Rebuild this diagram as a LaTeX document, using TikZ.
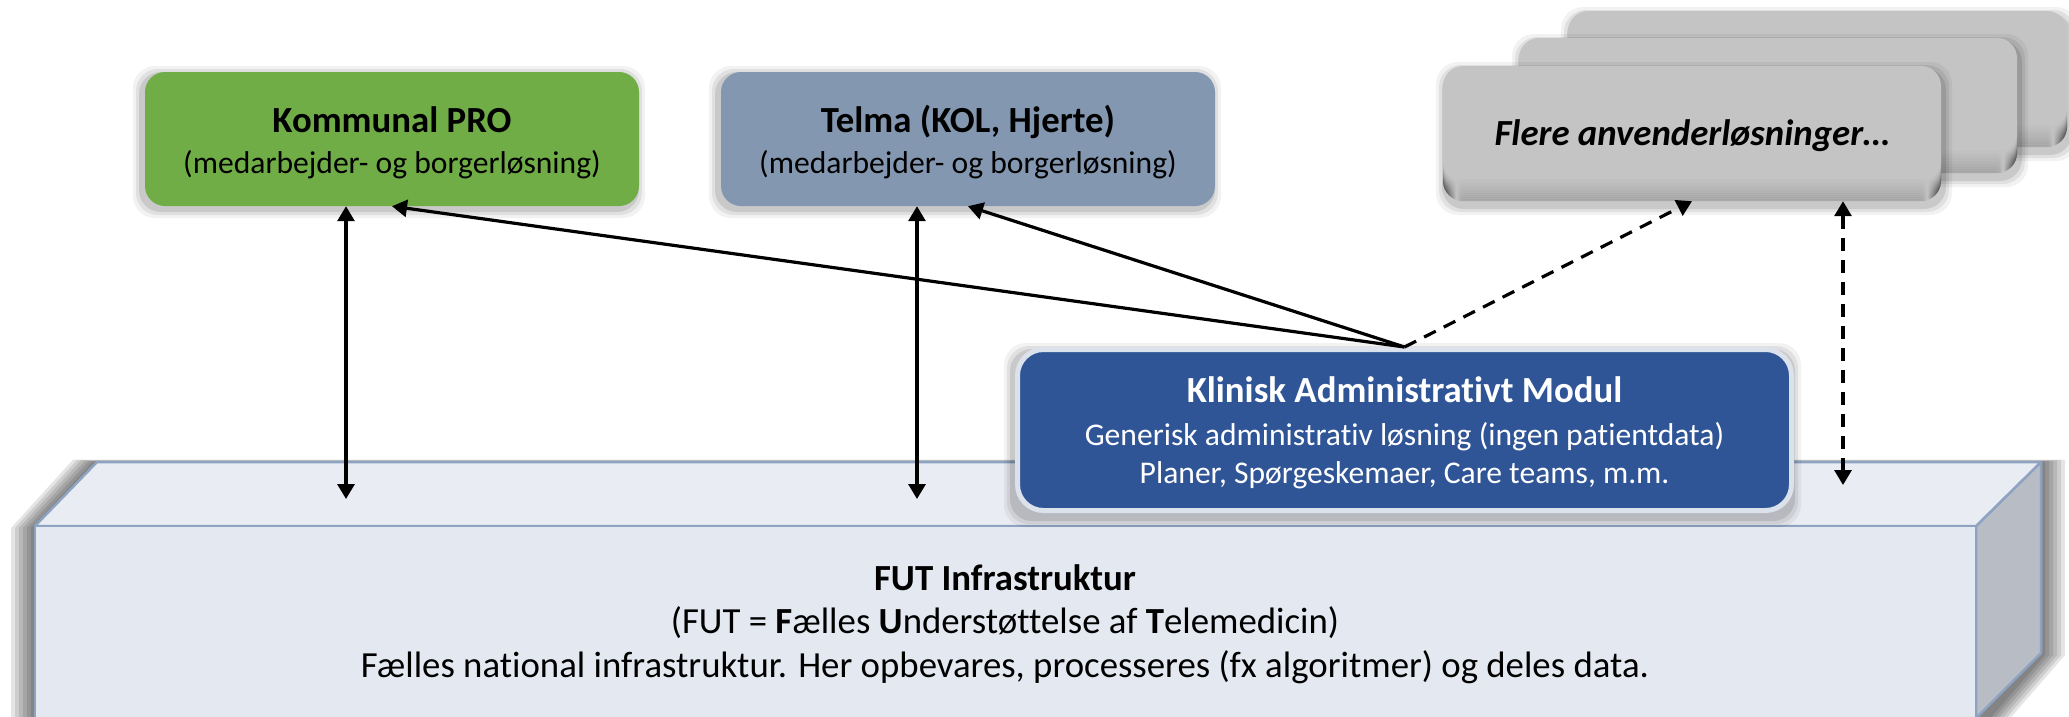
\documentclass[tikz,border=0pt]{standalone}
\usepackage{fontspec}
\setmainfont{Carlito}[Ligatures=NoCommon]
\usetikzlibrary{arrows.meta,calc}
\definecolor{cgreen}{HTML}{70AD47}
\definecolor{ctelma}{HTML}{8497B0}
\definecolor{ckam}{HTML}{2F5597}
\definecolor{ckamb}{HTML}{DCE2EC}
\definecolor{cgray}{HTML}{C4C4C4}
\definecolor{cgrayd}{HTML}{A6A6A6}
\definecolor{futtop}{HTML}{E9ECF2}
\definecolor{futfront}{HTML}{E4E8F0}
\definecolor{futside}{HTML}{B8BCC4}
\definecolor{futedge}{HTML}{8EA3C2}
\tikzset{
  appbox/.style={rectangle, rounded corners=20pt, minimum width=494pt, minimum height=134pt, inner sep=0pt},
  grbox/.style={rectangle, rounded corners=20pt, minimum width=498pt, minimum height=135pt, inner sep=0pt, fill=cgray,
    path picture={\foreach \k in {0,...,11}{\fill[black, opacity=0.012*\k] ([yshift=24pt-2*\k pt]path picture bounding box.south west) rectangle ([yshift=22pt-2*\k pt]path picture bounding box.south east);}}},
  ttl/.style={anchor=base, font=\fontsize{36.8}{44}\selectfont\bfseries, inner sep=0pt},
  txt/.style={anchor=base, font=\fontsize{36.8}{44}\selectfont, inner sep=0pt},
  sub/.style={anchor=base, font=\fontsize{31.6}{38}\selectfont, inner sep=0pt},
  arr/.style={line width=3.2pt, -{Triangle[length=15pt,width=17pt]}},
  dbl/.style={line width=3.2pt, {Triangle[length=15pt,width=17pt]}-{Triangle[length=15pt,width=17pt]}},
  dsh/.style={dash pattern=on 13pt off 9pt},
}
\newcommand{\mysoftshadow}[6]{%
  \foreach \e/\o in {9/0.05,6/0.07,3/0.1}{%
    \fill[black, opacity=\o, rounded corners=22pt] (#1+#5-\e,#2+#6-\e) rectangle (#3+#5+\e,#4+#6+\e);}%
}
\begin{document}
\begin{tikzpicture}[x=1pt,y=-1pt]
\clip (0,0) rectangle (2069,716);
\fill[white] (0,0) rectangle (2069,716);
% FUT shadow (soft, mainly left and right)
\foreach \i in {1,...,6}{
  \fill[black, opacity=0.1] (35-4*\i,730) -- (35-4*\i,528) -- (97-4*\i,462-0.4*\i) -- (2041+4*\i,462-0.4*\i) -- (2041+4*\i,655) -- (1976+4*\i,730) -- cycle;
}
% FUT box
\fill[futside, draw=futedge, line width=2.5pt, line join=round] (1976,526) -- (2041,462) -- (2041,653) -- (1976,718) -- cycle;
\fill[futtop, draw=futedge, line width=2.5pt, line join=round] (35,526) -- (97,462) -- (2041,462) -- (1976,526) -- cycle;
\fill[futfront, draw=futedge, line width=2.5pt] (35,526) rectangle (1976,730);
\node[ttl] (futt) at (1005,590) {FUT Infrastruktur};
\node[txt] (futs) at (1005,633) {(FUT = \textbf{F}ælles \textbf{U}nderstøttelse af \textbf{T}elemedicin)};
\node[txt] (futd) at (1005,677) {Fælles national infrastruktur. Her opbevares, processeres (fx algoritmer) og deles data.};
% KAM
\mysoftshadow{1015}{347}{1794}{513}{-2}{5}
\node[rectangle, rounded corners=26pt, fill=ckam, draw=ckamb, line width=5pt, minimum width=774pt, minimum height=161pt, inner sep=0pt] (kam) at (1404.5,430) {};
\node[ttl, text=white] (kamt) at (1404.5,402) {Klinisk Administrativt Modul};
\node[sub, text=white] (kams1) at (1404.5,445) {Generisk administrativ løsning (ingen patientdata)};
\node[sub, text=white] (kams2) at (1404.5,483) {Planer, Spørgeskemaer, Care teams, m.m.};
% Flere boxes
\mysoftshadow{1568}{11}{2067}{147}{2}{5}
\node[grbox, minimum width=499pt, minimum height=136pt] (flere3) at (1817.5,79) {};
\mysoftshadow{1519}{38}{2017}{173}{2}{5}
\node[grbox] (flere2) at (1768,105.5) {};
\mysoftshadow{1443}{66}{1941}{201}{2}{5}
\node[grbox] (flere) at (1692,133.5) {};
\node[anchor=base, font=\fontsize{36.8}{44}\selectfont\bfseries\itshape, inner sep=0pt] (fleret) at (1692,145) {Flere anvenderløsninger…};
% Kommunal PRO
\mysoftshadow{145}{72}{639}{206}{-3}{3}
\node[appbox, fill=cgreen] (kpro) at (392,139) {};
\node[ttl] (kprot) at (392,132) {Kommunal PRO};
\node[sub] (kpros) at (392,173) {(medarbejder- og borgerløsning)};
% Telma
\mysoftshadow{721}{72}{1215}{206}{-3}{3}
\node[appbox, fill=ctelma] (telma) at (968,139) {};
\node[ttl] (telmat) at (968,132) {Telma (KOL, Hjerte)};
\node[sub] (telmas) at (968,173) {(medarbejder- og borgerløsning)};
% connectors
\coordinate (fk) at (346,499);
\coordinate (ft) at (917,499);
\coordinate (ff) at (1843,485);
\draw[dbl] (fk) -- (fk |- kpro.south);
\draw[dbl] (ft) -- (ft |- telma.south);
\draw[dbl, dsh] (ff) -- (ff |- flere.south);
\draw[arr] (kam.north) -- (kpro.south);
\draw[arr] (kam.north) -- (telma.south);
\draw[arr, dsh] (kam.north) -- (flere.south);
\end{tikzpicture}
\end{document}
